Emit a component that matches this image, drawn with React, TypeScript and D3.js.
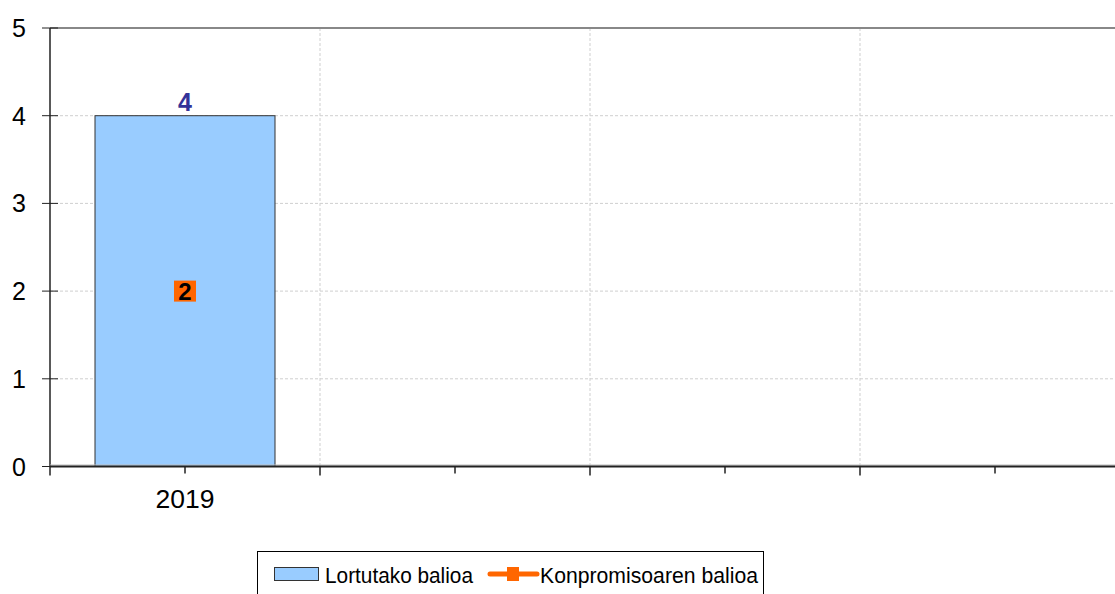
import React from "react";
import * as d3 from "d3";

const categories = ["2019", "", " ", "  "];
const achieved: (number | null)[] = [4, null, null, null];
const commitment: (number | null)[] = [2, null, null, null];
const yTicks = [0, 1, 2, 3, 4, 5];
const seriesNames = ["Lortutako balioa", "Konpromisoaren balioa"];

const W = 1115;
const H = 594;
const left = 50;
const right = 1130;
const top = 28;
const bottom = 466.5;
const FONT = "'Liberation Sans', Arial, sans-serif";

export default function App() {
  const x = d3.scaleBand<string>().domain(categories).range([left, right]).padding(0);
  const y = d3.scaleLinear().domain([0, 5]).range([bottom, top]);
  const bw = x.bandwidth();
  const barW = bw / 1.5;

  return (
    <svg
      width={W}
      height={H}
      style={{ position: "absolute", left: 0, top: 0, background: "#fff" }}
      fontFamily={FONT}
    >
      {yTicks.filter((t) => t > 0 && t < 5).map((t) => (
        <line key={"hg" + t} x1={left} x2={right} y1={y(t)} y2={y(t)} stroke="#cfcfcf" strokeDasharray="3,2" strokeWidth={1} />
      ))}
      {categories.slice(1).map((c) => (
        <line key={"vg" + c} x1={x(c)!} x2={x(c)!} y1={top} y2={bottom} stroke="#cfcfcf" strokeDasharray="3,2" strokeWidth={1} />
      ))}
      <line x1={left} x2={right} y1={top} y2={top} stroke="#888" strokeWidth={2} />
      {categories.map((c, i) =>
        achieved[i] != null ? (
          <g key={"b" + i}>
            <rect
              x={x(c)! + (bw - barW) / 2}
              y={y(achieved[i]!)}
              width={barW}
              height={y(0) - y(achieved[i]!)}
              fill="#99CCFF"
              stroke="#333"
              strokeWidth={1}
            />
            <text
              x={x(c)! + bw / 2}
              y={y(achieved[i]!) - 4.5}
              textAnchor="middle"
              fontSize={25}
              fontWeight="bold"
              fill="#333399"
            >
              {achieved[i]}
            </text>
          </g>
        ) : null
      )}
      {categories.map((c, i) =>
        commitment[i] != null ? (
          <g key={"m" + i}>
            <rect
              x={x(c)! + bw / 2 - 11}
              y={y(commitment[i]!) - 10.5}
              width={22}
              height={21}
              fill="#FF6600"
            />
            <text
              x={x(c)! + bw / 2}
              y={y(commitment[i]!) + 9}
              textAnchor="middle"
              fontSize={24}
              fontWeight="bold"
              fill="#000"
            >
              {commitment[i]}
            </text>
          </g>
        ) : null
      )}
      <line x1={left} x2={left} y1={top} y2={bottom} stroke="#222" strokeWidth={1.5} />
      {yTicks.map((t) => (
        <g key={"yt" + t}>
          <line x1={left - 8} x2={left + 8} y1={y(t)} y2={y(t)} stroke="#222" strokeWidth={1} />
          <text x={26} y={y(t) + 9} textAnchor="end" fontSize={25} fill="#000">
            {t}
          </text>
        </g>
      ))}
      <line x1={left} x2={right} y1={bottom - 1.5} y2={bottom - 1.5} stroke="#bbb" strokeWidth={1} />
      <line x1={left} x2={right} y1={bottom} y2={bottom} stroke="#222" strokeWidth={2} />
      {categories.map((c) => (
        <g key={"xt" + c}>
          <line x1={x(c)!} x2={x(c)!} y1={bottom} y2={bottom + 9} stroke="#222" strokeWidth={1.5} />
          <line x1={x(c)! + bw / 2} x2={x(c)! + bw / 2} y1={bottom} y2={bottom + 7} stroke="#222" strokeWidth={1.5} />
          <text x={x(c)! + bw / 2} y={508} textAnchor="middle" fontSize={26.5} fill="#000">
            {c.trim()}
          </text>
        </g>
      ))}
      <rect x={257.5} y={551.5} width={506} height={60} fill="#fff" stroke="#000" strokeWidth={1} />
      <rect x={274.5} y={567.5} width={44} height={13} fill="#99CCFF" stroke="#333" strokeWidth={1} />
      <text x={325} y={583} fontSize={21.2} fill="#000" textLength={148} lengthAdjust="spacingAndGlyphs">
        {seriesNames[0]}
      </text>
      <line x1={490} x2={537} y1={574} y2={574} stroke="#FF6600" strokeWidth={5} strokeLinecap="round" />
      <rect x={507} y={567} width={12} height={14} fill="#FF6600" />
      <text x={540} y={583} fontSize={21.2} fill="#000" textLength={218} lengthAdjust="spacingAndGlyphs">
        {seriesNames[1]}
      </text>
    </svg>
  );
}
